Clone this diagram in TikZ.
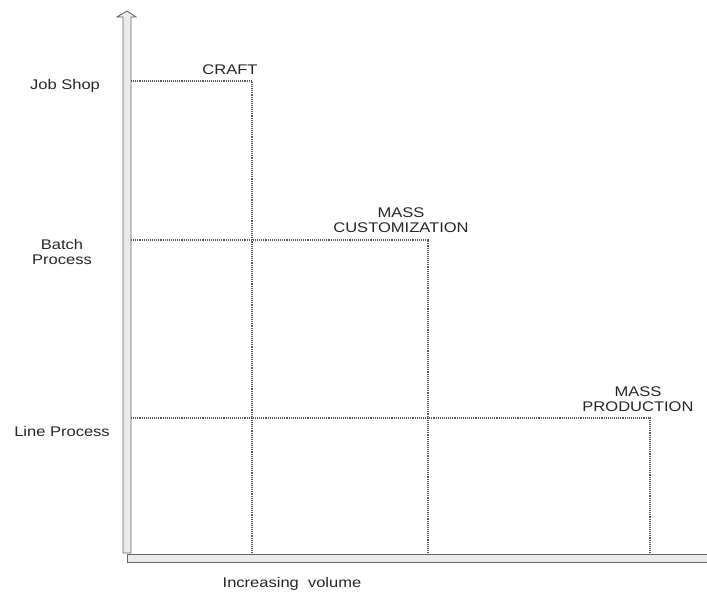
\documentclass[tikz,border=0pt]{standalone}
\usepackage{fontspec}
\setmainfont{Liberation Sans}
\newfontfamily\widesans[FakeStretch=1.18]{Liberation Sans}
\begin{document}
\begin{tikzpicture}[x=1pt,y=-1pt,
  lbl/.style={text=black!85, font=\widesans\fontsize{14}{15.5}\selectfont, inner sep=0pt, align=center},
  guide/.style={draw=black!65, densely dotted, line width=1.1pt},
  axisbar/.style={draw=black!60, fill=blue!4!black!8, line width=0.9pt}]
\useasboundingbox (0,0) rectangle (707,603);
% horizontal axis (hollow bar)
\draw[axisbar] (127,554) -- (712,554) -- (712,562) -- (127,562) -- cycle;
% vertical axis (hollow arrow)
\draw[axisbar] (123,553) -- (123,17) -- (117,17) -- (127,11) -- (136,17) -- (131,17) -- (131,553) -- cycle;
% named anchors
\coordinate (o1) at (131,81);  \coordinate (c1) at (252,81);  \coordinate (b1) at (252,554);
\coordinate (o2) at (131,240); \coordinate (c2) at (428,240); \coordinate (b2) at (428,554);
\coordinate (o3) at (131,418); \coordinate (c3) at (650,418); \coordinate (b3) at (650,554);
\draw[guide] (o1) -- (c1) -- (b1);
\draw[guide] (o2) -- (c2) -- (b2);
\draw[guide] (o3) -- (c3) -- (b3);
% labels
\node[lbl] (craft) at (230,70) {CRAFT};
\node[lbl] (mc) at (401,220) {MASS\\CUSTOMIZATION};
\node[lbl] (mp) at (638,399) {MASS\\PRODUCTION};
\node[lbl] (js) at (65,86) {Job Shop};
\node[lbl] (bp) at (62,252) {Batch\\Process};
\node[lbl] (lp) at (62,431) {Line Process};
\node[lbl] (iv) at (292,584) {Increasing\ \ volume};
\end{tikzpicture}
\end{document}
